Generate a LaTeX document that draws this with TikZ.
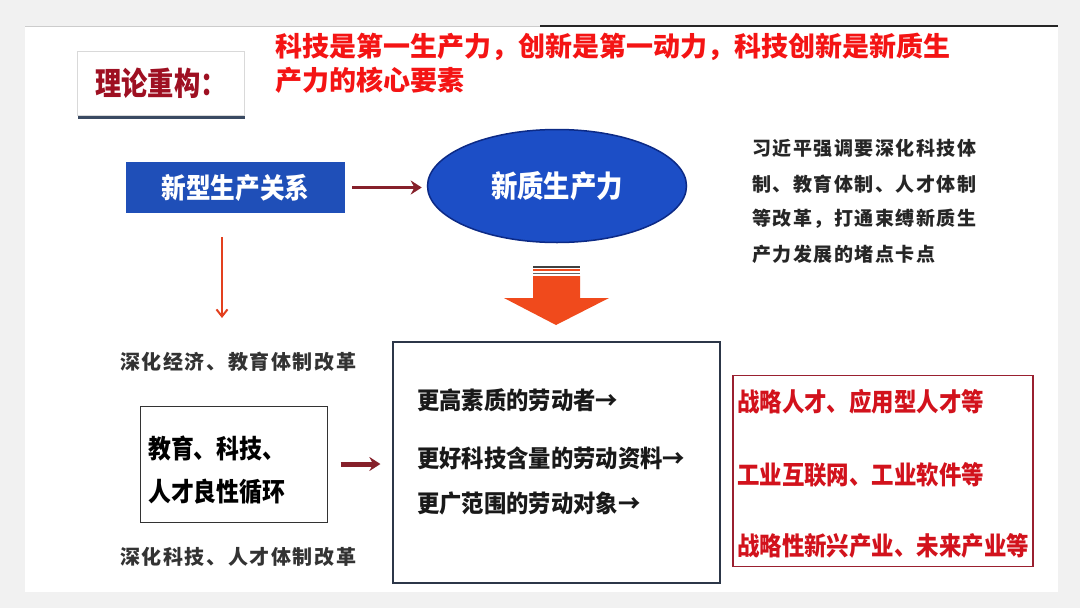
\documentclass[tikz,border=0pt]{standalone}
\usepackage{fontspec}
\setmainfont{Noto Sans CJK SC}
\newfontfamily\cjkA[FakeStretch=0.82]{Noto Sans CJK SC}
\newfontfamily\cjkB[FakeStretch=0.88]{Noto Sans CJK SC}
\newfontfamily\cjkC[FakeStretch=0.93]{Noto Sans CJK SC}
\newfontfamily\cjkS[LetterSpace=8]{Noto Sans CJK SC}
\usetikzlibrary{shapes.geometric,arrows.meta}
\definecolor{pagegray}{HTML}{F1F1F1}
\definecolor{titred}{HTML}{9E1022}
\definecolor{topred}{HTML}{F41414}
\definecolor{relblue}{HTML}{1F4FB8}
\definecolor{ellblue}{HTML}{1C4EC6}
\definecolor{elledge}{HTML}{0C2A86}
\definecolor{darkarrow}{HTML}{86202A}
\definecolor{thinred}{HTML}{E3401E}
\definecolor{bigarrow}{HTML}{F04A1C}
\definecolor{boxred}{HTML}{D2121C}
\definecolor{boxredge}{HTML}{9A2030}
\definecolor{midedge}{HTML}{2C3648}
\definecolor{shadowc}{HTML}{3A4A62}
\tikzset{
  txt/.style={inner sep=0pt, anchor=west},
  titletext/.style={inner sep=0pt, font=\cjkA\fontsize{32}{32}\selectfont\bfseries, text=titred},
  toptext/.style={txt, font=\fontsize{27}{27}\selectfont\bfseries, text=topred},
  blacknote/.style={txt, font=\cjkS\fontsize{19}{19}\selectfont\bfseries, text=black!85},
  sidenote/.style={txt, font=\cjkS\fontsize{20}{20}\selectfont\bfseries, text=black!80},
  cycletext/.style={txt, font=\cjkB\fontsize{26}{26}\selectfont\bfseries, text=black},
  midtext/.style={txt, font=\cjkC\fontsize{24}{24}\selectfont\bfseries, text=black!90},
  redtext/.style={txt, font=\cjkB\fontsize{25.5}{25.5}\selectfont\bfseries, text=boxred},
  darkarr/.style={draw=darkarrow, line width=4pt, -{Stealth[length=11pt,width=14pt]}},
}
\begin{document}
\begin{tikzpicture}[x=1pt,y=-1pt]
\useasboundingbox (0,0) rectangle (1080,608);
% page and slide
\fill[pagegray] (0,0) rectangle (1080,608);
\fill[white] (25,26) rectangle (1058,592);
\draw[black!20, line width=1pt] (25,26) -- (540,26);
\draw[black!85, line width=2pt] (540,26) -- (1058,26);
% title box
\fill[shadowc] (78,114) rectangle (245,119);
\node[draw=black!15, fill=white, minimum width=167pt, minimum height=64pt, inner sep=0pt] (titlebox) at (161,83) {};
\node[titletext] (title) at (titlebox.center) {理论重构：};
% top red statement
\node[toptext] (top1) at (275,47) {科技是第一生产力，创新是第一动力，科技创新是新质生};
\node[toptext] (top2) at (275,80) {产力的核心要素};
% blue rectangle and ellipse
\node[fill=relblue, minimum width=219pt, minimum height=51pt, inner sep=0pt,
      font=\cjkB\fontsize{28}{28}\selectfont\bfseries, text=white] (rel) at (235.5,187.5) {新型生产关系};
\node[ellipse, fill=ellblue, draw=elledge, line width=1.5pt, minimum width=259pt, minimum height=113pt, inner sep=0pt,
      font=\cjkB\fontsize{30}{30}\selectfont\bfseries, text=white] (ell) at (557,186) {新质生产力};
\draw[darkarr, line width=3.5pt, shorten <=7pt, shorten >=5pt] (rel.east) -- (rel.east -| ell.west);
% right black note
\node[blacknote] (n1) at (752,148) {习近平强调要深化科技体};
\node[blacknote] (n2) at (752,184) {制、教育体制、人才体制};
\node[blacknote] (n3) at (752,219) {等改革，打通束缚新质生};
\node[blacknote] (n4) at (752,254) {产力发展的堵点卡点};
% thin red down arrow
\coordinate (d1) at (222,237);
\coordinate (d2) at (222,318);
\draw[thinred, line width=2pt, -{Straight Barb[length=7pt,width=11pt]}] (d1) -- (d2);
% big block arrow
\fill[black!75] (533,265.5) rectangle (580,267.5);
\fill[bigarrow] (533,269) rectangle (580,271);
\fill[black!60] (533,272.5) rectangle (580,274);
\fill[bigarrow] (533,276) -- (580,276) -- (580,298) -- (609,298) -- (556,325) -- (504,298) -- (533,298) -- cycle;
% left side
\node[sidenote] (s1) at (120,362) {深化经济、教育体制改革};
\node[draw=black!80, line width=1pt, minimum width=187pt, minimum height=116pt, inner sep=0pt] (cyc) at (233.5,464) {};
\node[cycletext] (c1) at (148,448) {教育、科技、};
\node[cycletext] (c2) at (148,492) {人才良性循环};
\node[sidenote] (s2) at (120,557) {深化科技、人才体制改革};
% middle box
\node[draw=midedge, line width=1.2pt, minimum width=327pt, minimum height=241pt, inner sep=0pt] (mid) at (556.5,462.5) {};
\node[midtext] (m1) at (417,400) {更高素质的劳动者→};
\node[midtext] (m2) at (417,458) {更好科技含量的劳动资料→};
\node[midtext] (m3) at (417,503) {更广范围的劳动对象→};
\draw[darkarr, line width=5pt, shorten <=13pt, shorten >=12pt] (cyc.east) -- (cyc.east -| mid.west);
% right red box
\node[draw=boxredge, line width=1.2pt, minimum width=300pt, minimum height=191pt, inner sep=0pt] (rbox) at (883,471) {};
\node[redtext] (r1) at (737,402) {战略人才、应用型人才等};
\node[redtext] (r2) at (737,475) {工业互联网、工业软件等};
\node[redtext] (r3) at (737,546) {战略性新兴产业、未来产业等};
\end{tikzpicture}
\end{document}
